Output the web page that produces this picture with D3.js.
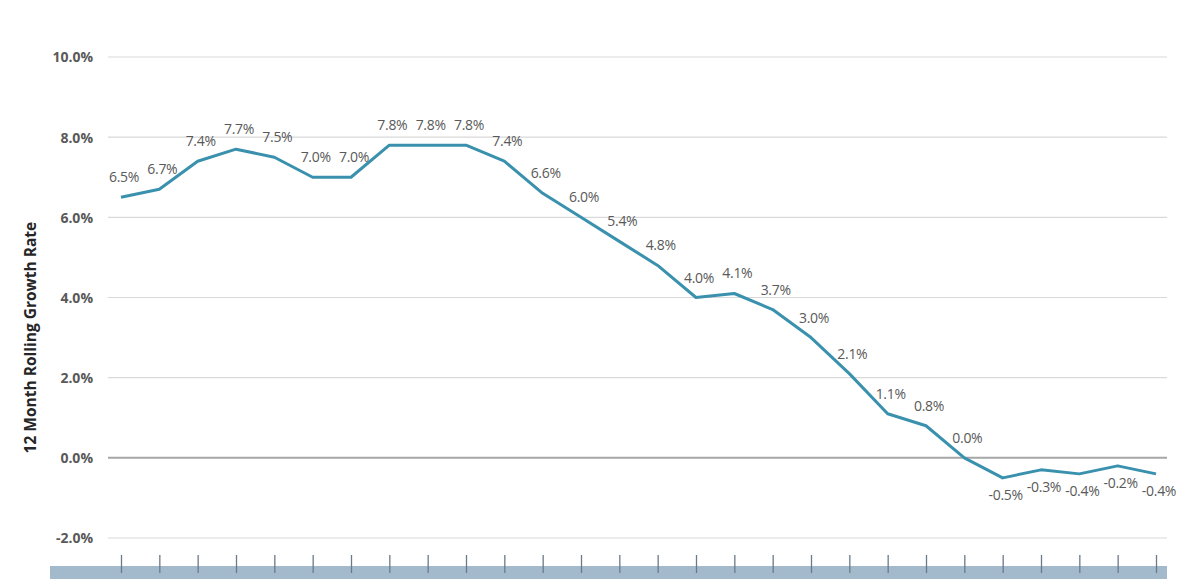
<!DOCTYPE html>
<html>
<head>
<meta charset="utf-8">
<script src="https://cdn.jsdelivr.net/npm/d3@7"></script>
<style>
  html, body { margin: 0; padding: 0; background: #ffffff; }
  svg { display: block; }
</style>
</head>
<body>
<div id="chart"></div>
<script>
// ---- data ----
const categories = ["P1","P2","P3","P4","P5","P6","P7","P8","P9","P10","P11","P12","P13","P14",
                    "P15","P16","P17","P18","P19","P20","P21","P22","P23","P24","P25","P26","P27","P28"];
const growthRate = [6.5, 6.7, 7.4, 7.7, 7.5, 7.0, 7.0, 7.8, 7.8, 7.8, 7.4, 6.6, 6.0, 5.4,
                    4.8, 4.0, 4.1, 3.7, 3.0, 2.1, 1.1, 0.8, 0.0, -0.5, -0.3, -0.4, -0.2, -0.4];
const yTicks = [-2, 0, 2, 4, 6, 8, 10];
const yTitle = "12 Month Rolling Growth Rate";

const pct = d => d.toFixed(1) + "%";

// ---- layout ----
const W = 1196, H = 579;
const svg = d3.select("#chart").append("svg").attr("width", W).attr("height", H);

const x = d3.scalePoint().domain(categories).range([121, 1156]);
const y = d3.scaleLinear().domain([-2, 10]).range([538, 57]);
const gridX0 = 108, gridX1 = 1167;

// gridlines
svg.append("g").selectAll("line").data(yTicks.filter(t => t !== 0)).join("line")
  .attr("x1", gridX0).attr("x2", gridX1)
  .attr("y1", d => y(d)).attr("y2", d => y(d))
  .attr("stroke", "#d9d9d9").attr("stroke-width", 1.2);

// zero line
svg.append("line")
  .attr("x1", gridX0).attr("x2", gridX1)
  .attr("y1", y(0)).attr("y2", y(0))
  .attr("stroke", "#a6a6a6").attr("stroke-width", 2);

// y axis labels
const yAxis = d3.axisLeft(y).tickValues(yTicks).tickSize(0).tickPadding(0).tickFormat(pct);
const gy = svg.append("g").attr("transform", "translate(93,0)").call(yAxis);
gy.select(".domain").remove();
gy.selectAll("text")
  .attr("font-family", "'Open Sans', sans-serif")
  .attr("font-weight", "bold")
  .attr("font-size", 14)
  .attr("fill", "#595959")
  .attr("dy", "0.35em");

// y title
svg.append("text")
  .attr("transform", `translate(36,${y(3)}) rotate(-90)`)
  .attr("text-anchor", "middle")
  .attr("font-family", "'Open Sans', sans-serif")
  .attr("font-weight", "bold")
  .attr("font-size", 15.5)
  .attr("fill", "#262626")
  .text(yTitle);

// bottom band
svg.append("rect")
  .attr("x", 50).attr("y", 566).attr("width", gridX1 - 50).attr("height", H - 566)
  .attr("fill", "#a3b9cc");

// x ticks
const xAxis = d3.axisBottom(x).tickSizeInner(18).tickSizeOuter(0).tickFormat("");
const gx = svg.append("g").attr("transform", "translate(0,555)").call(xAxis);
gx.select(".domain").remove();
gx.selectAll("line").attr("stroke", "#6b7a88").attr("stroke-width", 1.3);

// line
const line = d3.line().x((d, i) => x(categories[i])).y(d => y(d));
svg.append("path")
  .datum(growthRate)
  .attr("d", line)
  .attr("fill", "none")
  .attr("stroke", "#3a91ad")
  .attr("stroke-width", 3)
  .attr("stroke-linejoin", "round");

// data labels
svg.append("g").selectAll("text").data(growthRate).join("text")
  .attr("x", (d, i) => x(categories[i]) + 3)
  .attr("y", d => d < 0 ? y(d) + 22 : y(d) - 15)
  .attr("text-anchor", "middle")
  .attr("font-family", "'Open Sans', sans-serif")
  .attr("font-size", 14)
  .attr("letter-spacing", "-0.3")
  .attr("fill", "#595959")
  .text(pct);
</script>
</body>
</html>
